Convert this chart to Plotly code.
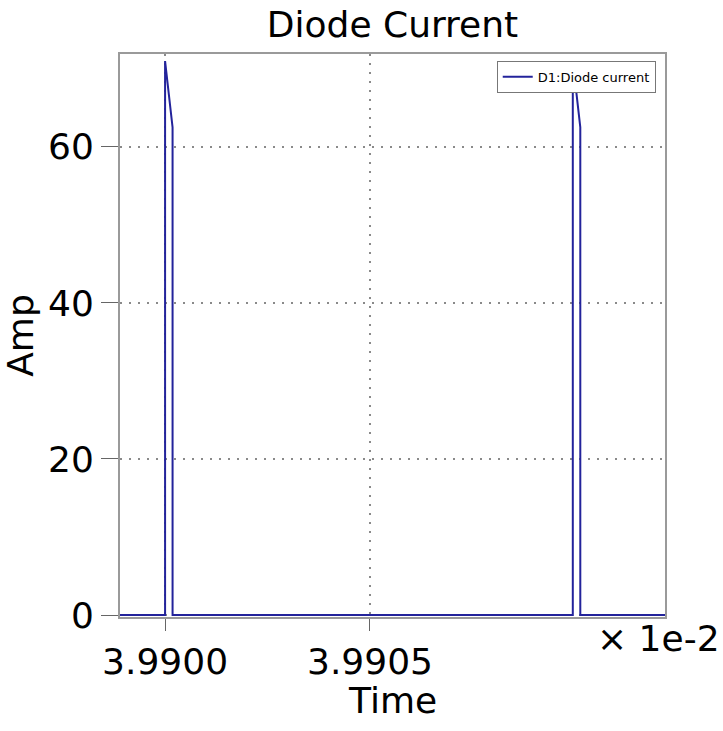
import plotly.graph_objects as go

# Time in units of 1e-2 s, current in A
time_e2 = [3.98989, 3.99000, 3.99000, 3.9900183, 3.9900183, 3.990995, 3.990995, 3.9910133, 3.9910133, 3.99122]
current = [0.0, 0.0, 71.0, 62.5, 0.0, 0.0, 71.0, 62.5, 0.0, 0.0]

x_tickvals = [3.9900, 3.9905]
x_ticktext = ["3.9900", "3.9905"]
y_tickvals = [0, 20, 40, 60]

FONT = "DejaVu Sans"

fig = go.Figure()
fig.add_trace(go.Scatter(
    x=time_e2, y=current, mode="lines", name="D1:Diode current",
    line=dict(color="#23239b", width=2),
))

fig.update_layout(
    width=723, height=731,
    margin=dict(l=120, r=58, t=54, b=114),
    paper_bgcolor="white", plot_bgcolor="white",
    font=dict(family=FONT, size=36, color="black"),
    title=dict(text="Diode Current", x=(120 + 665) / 2 / 723, xanchor="center",
               y=1 - 24 / 731, yanchor="middle", font=dict(size=36)),
    showlegend=True,
    legend=dict(x=0.983, xanchor="right", y=0.988, yanchor="top",
                bgcolor="white", bordercolor="#777777", borderwidth=1,
                font=dict(size=13, family=FONT), itemwidth=30,
                tracegroupgap=0),
    xaxis=dict(
        range=[3.98989, 3.99122], tickvals=x_tickvals, ticktext=x_ticktext,
        showgrid=True, gridcolor="#8a8a8a", griddash="2px,7px", gridwidth=2,
        showline=True, mirror=True, linecolor="#9a9a9a", linewidth=2,
        ticks="outside", ticklen=12, tickcolor="#666666",
        zeroline=False,
    ),
    yaxis=dict(
        range=[-0.25, 71.9], tickvals=y_tickvals,
        showgrid=True, gridcolor="#8a8a8a", griddash="2px,7px", gridwidth=2,
        showline=True, mirror=True, linecolor="#9a9a9a", linewidth=2,
        ticks="outside", ticklen=17, tickcolor="#666666",
        zeroline=False,
        title=dict(text="Amp", standoff=4, font=dict(size=36)),
    ),
    annotations=[
        dict(text="× 1e-2", xref="paper", yref="paper",
             x=(722 - 120) / 545, y=(617 - 638) / 563,
             xanchor="right", yanchor="middle", showarrow=False,
             font=dict(size=36, family=FONT)),
        dict(text="Time", xref="paper", yref="paper",
             x=0.5, y=(617 - 700) / 563,
             xanchor="center", yanchor="middle", showarrow=False,
             font=dict(size=36, family=FONT)),
    ],
)

fig.write_html("out.html")
